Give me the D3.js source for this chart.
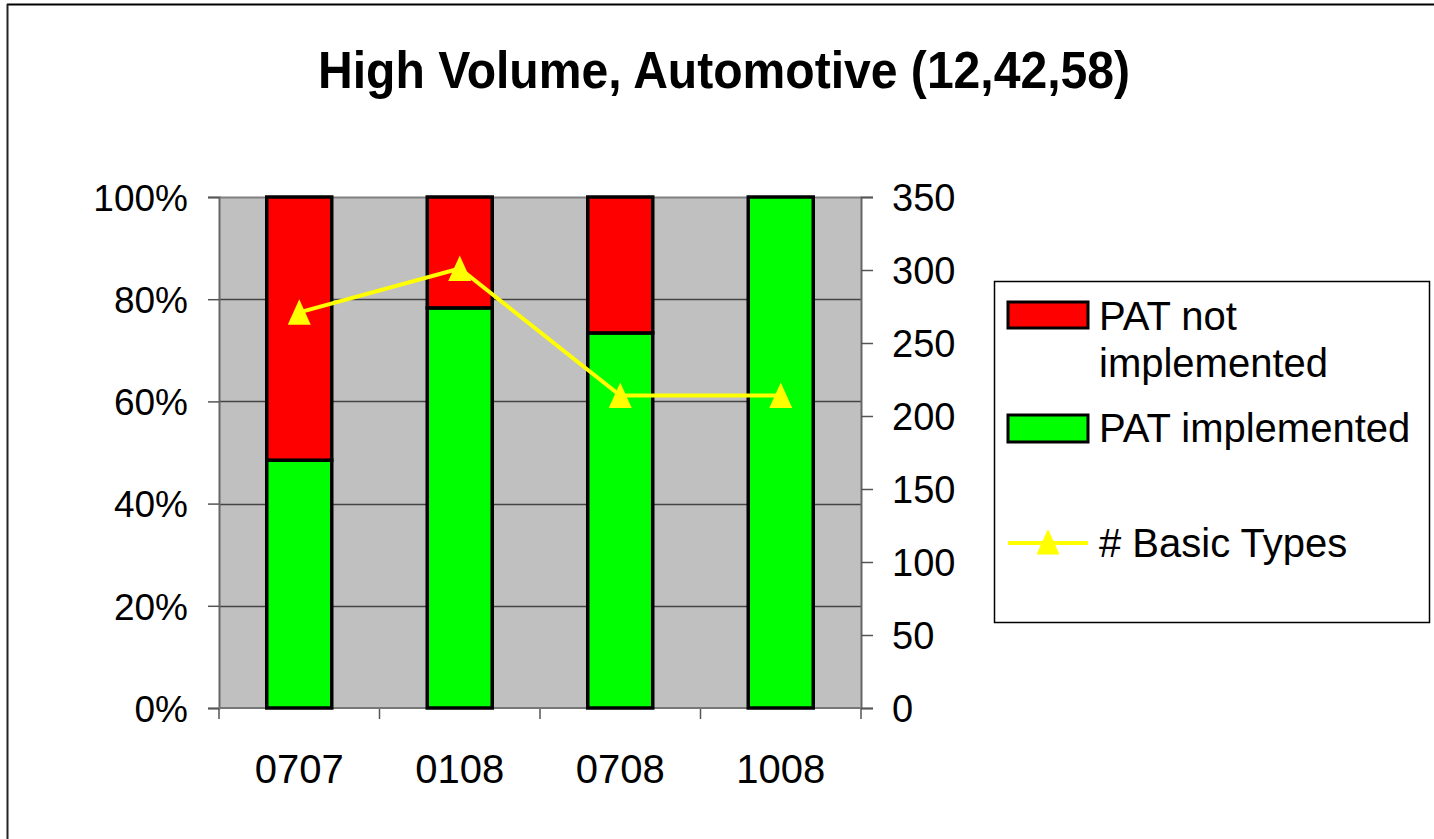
<!DOCTYPE html>
<html>
<head>
<meta charset="utf-8">
<script src="https://cdn.jsdelivr.net/npm/d3@7"></script>
<style>
  html, body { margin: 0; padding: 0; background: #fff; }
  svg { display: block; font-family: "Liberation Sans", Arial, sans-serif; }
</style>
</head>
<body>
<svg id="chart" width="1434" height="839"></svg>
<script>
// Chart data
const categories = ["0707", "0108", "0708", "1008"];
const implementedPct = [48.5, 78.3, 73.4, 100];      // % PAT implemented
const notImplementedPct = [51.5, 21.7, 26.6, 0];     // % PAT not implemented
const basicTypes = [271, 301, 214, 214];             // # Basic Types (right axis)
const leftTicks = [0, 20, 40, 60, 80, 100];
const rightTicks = [0, 50, 100, 150, 200, 250, 300, 350];
const seriesNames = ["PAT not implemented", "PAT implemented", "# Basic Types"];
const titleText = "High Volume, Automotive (12,42,58)";

const svg = d3.select("#chart");
const plot = { left: 219, right: 861, top: 197, bottom: 708 };
const FONT = "Liberation Sans, Arial, sans-serif";

// Outer chart frame (left and top edges visible)
svg.append("line").attr("x1", 7).attr("x2", 1434).attr("y1", 4.5).attr("y2", 4.5)
  .attr("stroke", "#000").attr("stroke-width", 2);
svg.append("line").attr("x1", 7.5).attr("x2", 7.5).attr("y1", 4).attr("y2", 839)
  .attr("stroke", "#222").attr("stroke-width", 2);

// Title
svg.append("text").attr("x", 318).attr("y", 88)
  .attr("font-size", 52).attr("font-weight", "bold")
  .attr("textLength", 812).attr("lengthAdjust", "spacingAndGlyphs")
  .text(titleText);

const x = d3.scaleBand().domain(categories).range([plot.left, plot.right]).paddingInner(0).paddingOuter(0);
const yL = d3.scaleLinear().domain([0, 100]).range([plot.bottom, plot.top]);
const yR = d3.scaleLinear().domain([0, 350]).range([plot.bottom, plot.top]);

// Plot background
svg.append("rect").attr("x", plot.left).attr("y", plot.top)
  .attr("width", plot.right - plot.left).attr("height", plot.bottom - plot.top)
  .attr("fill", "#c0c0c0");

// Gridlines
svg.append("g").selectAll("line").data(leftTicks.filter(d => d > 0 && d < 100)).join("line")
  .attr("x1", plot.left).attr("x2", plot.right)
  .attr("y1", d => Math.round(yL(d)) + 0.5).attr("y2", d => Math.round(yL(d)) + 0.5)
  .attr("stroke", "#444").attr("stroke-width", 1.5);
svg.append("line").attr("x1", plot.left).attr("x2", plot.right)
  .attr("y1", plot.top + 0.5).attr("y2", plot.top + 0.5)
  .attr("stroke", "#808080").attr("stroke-width", 2);

// Left axis
const leftAxis = d3.axisLeft(yL).tickValues(leftTicks).tickFormat(d => d + "%").tickSize(11).tickPadding(20);
const gL = svg.append("g").attr("transform", `translate(${plot.left},0)`).call(leftAxis);
gL.select(".domain").attr("stroke", "#666").attr("stroke-width", 2);
gL.selectAll(".tick line").attr("stroke", "#555").attr("stroke-width", 1.5);
gL.selectAll(".tick text").attr("font-size", 37).attr("fill", "#000").attr("dy", "0.36em")
  .attr("font-family", FONT);

// Right axis
const rightAxis = d3.axisRight(yR).tickValues(rightTicks).tickSize(12).tickPadding(19);
const gR = svg.append("g").attr("transform", `translate(${plot.right},0)`).call(rightAxis);
gR.select(".domain").attr("stroke", "#666").attr("stroke-width", 2);
gR.selectAll(".tick line").attr("stroke", "#555").attr("stroke-width", 1.5);
gR.selectAll(".tick text").attr("font-size", 38).attr("fill", "#000").attr("dy", "0.36em")
  .attr("font-family", FONT);

// Bottom axis: tick marks at category boundaries
const bounds = categories.map(c => x(c)).concat([plot.right]);
svg.append("g").selectAll("line").data(bounds).join("line")
  .attr("x1", d => d).attr("x2", d => d).attr("y1", plot.bottom).attr("y2", plot.bottom + 11)
  .attr("stroke", "#555").attr("stroke-width", 1.5);
svg.append("line").attr("x1", plot.left).attr("x2", plot.right)
  .attr("y1", plot.bottom).attr("y2", plot.bottom).attr("stroke", "#777").attr("stroke-width", 2);
svg.append("g").selectAll("text").data(categories).join("text")
  .attr("x", d => x(d) + x.bandwidth() / 2).attr("y", 783)
  .attr("text-anchor", "middle").attr("font-size", 40).text(d => d);

// Stacked bars
const barW = x.bandwidth() * 0.405;
const bars = svg.append("g");
categories.forEach((c, i) => {
  const cx = x(c) + x.bandwidth() / 2;
  const g0 = implementedPct[i];
  const g1 = g0 + notImplementedPct[i];
  bars.append("rect").attr("x", cx - barW / 2).attr("width", barW)
    .attr("y", yL(g0)).attr("height", yL(0) - yL(g0))
    .attr("fill", "#00ff00").attr("stroke", "#000").attr("stroke-width", 3.5);
  if (notImplementedPct[i] > 0) {
    bars.append("rect").attr("x", cx - barW / 2).attr("width", barW)
      .attr("y", yL(g1)).attr("height", yL(g0) - yL(g1))
      .attr("fill", "#ff0000").attr("stroke", "#000").attr("stroke-width", 3.5);
  }
});

// Line series with triangle markers
const triPath = "M0,-13L11.5,12.5L-11.5,12.5Z";
const linePts = categories.map((c, i) => [x(c) + x.bandwidth() / 2, yR(basicTypes[i])]);
svg.append("path").attr("d", d3.line()(linePts))
  .attr("fill", "none").attr("stroke", "#ffff00").attr("stroke-width", 4);
svg.append("g").selectAll("path").data(linePts).join("path")
  .attr("d", triPath).attr("transform", d => `translate(${d[0]},${d[1]})`)
  .attr("fill", "#ffff00");

// Legend
const lg = svg.append("g");
lg.append("rect").attr("x", 994.5).attr("y", 281.5).attr("width", 435).attr("height", 341)
  .attr("fill", "#fff").attr("stroke", "#000").attr("stroke-width", 1.5);
lg.append("rect").attr("x", 1008).attr("y", 302).attr("width", 80).attr("height", 26)
  .attr("fill", "#ff0000").attr("stroke", "#000").attr("stroke-width", 3);
lg.append("rect").attr("x", 1008).attr("y", 415).attr("width", 80).attr("height", 27)
  .attr("fill", "#00ff00").attr("stroke", "#000").attr("stroke-width", 3);
lg.append("line").attr("x1", 1008).attr("x2", 1088).attr("y1", 543).attr("y2", 543)
  .attr("stroke", "#ffff00").attr("stroke-width", 4);
lg.append("path").attr("d", triPath).attr("transform", "translate(1048,542)").attr("fill", "#ffff00");
const lt = lg.append("g").attr("font-size", 40);
lt.append("text").attr("x", 1099).attr("y", 330).text("PAT not");
lt.append("text").attr("x", 1099).attr("y", 377).text("implemented");
lt.append("text").attr("x", 1099).attr("y", 442).text(seriesNames[1]);
lt.append("text").attr("x", 1099).attr("y", 557).text(seriesNames[2]);
</script>
</body>
</html>
